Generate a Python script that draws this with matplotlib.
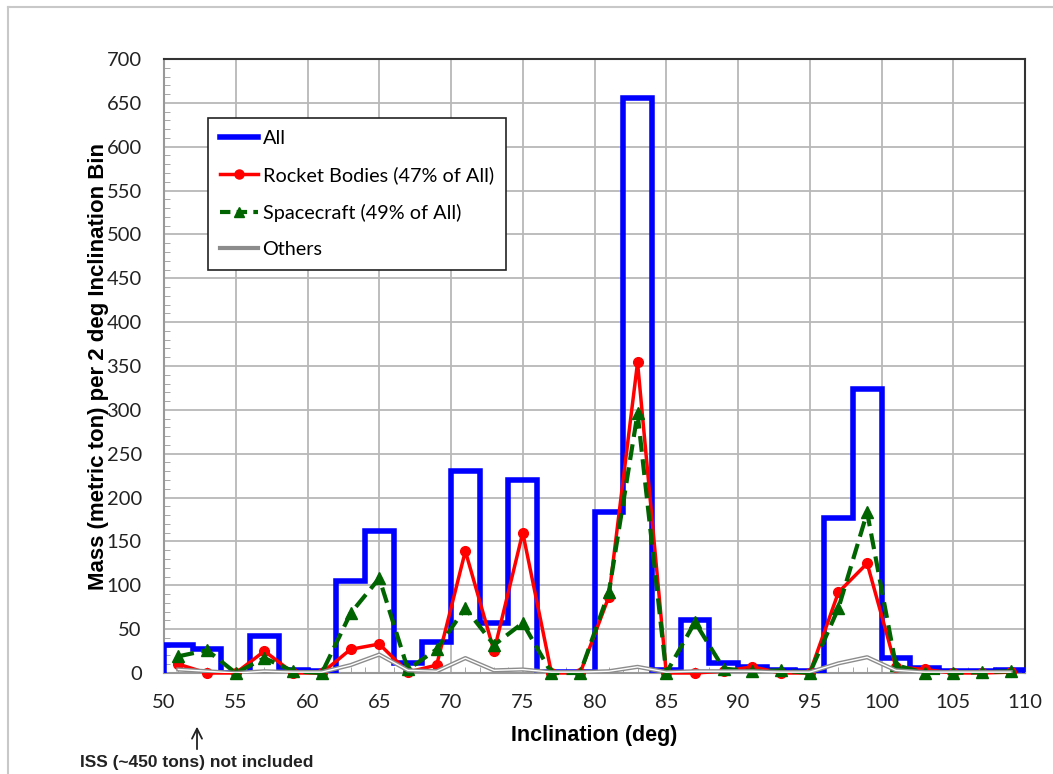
import numpy as np
import matplotlib
matplotlib.use("Agg")
import matplotlib.pyplot as plt
from matplotlib.lines import Line2D

# 2-deg inclination bins, 50..110
bin_edges = np.arange(50, 112, 2)
bin_centers = bin_edges[:-1] + 1

all_mass = [32, 27, 0, 42, 3, 2, 105, 162, 11, 35, 230, 57, 220, 1, 1,
            183, 656, 3, 60, 11, 7, 3, 2, 177, 324, 17, 6, 2, 2, 3]
rocket_bodies = [10, 0, 0, 25, 0, 0, 27, 33, 1, 9, 139, 25, 160, 0, 0,
                 87, 354, 0, 0, 2, 7, 0, 0, 92, 125, 7, 4, 0, 0, 1]
spacecraft = [19, 26, 0, 17, 2, 0, 68, 108, 4, 27, 74, 32, 57, 0, 0,
              92, 296, 0, 58, 5, 2, 3, 0, 74, 183, 9, 0, 0, 1, 2]
others = [4, 2, 0, 2, 1, 1, 9, 21, 3, 2, 17, 3, 4, 1, 1,
          2, 7, 1, 2, 2, 2, 1, 1, 11, 18, 3, 1, 1, 1, 1]

xticks = np.arange(50, 115, 5)
yticks = np.arange(0, 750, 50)

tick_font = "Lato"
label_font = "Liberation Sans"

fig = plt.figure(figsize=(10.53, 7.74), dpi=100)
ax = fig.add_axes([164 / 1053, 1 - 673 / 774, 861 / 1053, 614 / 774])

# grid
ax.set_axisbelow(True)
ax.grid(True, which="major", color="#b8b8b8", lw=1.3)

# series
ax.stairs(all_mass, bin_edges, baseline=0, color="#0000ff", lw=4, zorder=3)
ax.plot(bin_centers, rocket_bodies, color="#ff0000", lw=2.5, marker="o",
        ms=7, zorder=4, clip_on=False)
ax.plot(bin_centers, spacecraft, color="#006400", lw=3, ls=(0, (3.8, 1.8)),
        marker="^", ms=8.5, zorder=5, clip_on=False)
ax.plot(bin_centers, others, color="#8c8c8c", lw=3, zorder=6)
ax.plot(bin_centers, others, color="white", lw=1, zorder=6.5)

ax.set_xlim(50, 110)
ax.set_ylim(0, 700)
ax.set_xticks(xticks)
ax.set_yticks(yticks)
ax.set_xticks(np.arange(50, 111, 1), minor=True)
ax.set_yticks(np.arange(0, 701, 10), minor=True)
ax.tick_params(which="major", length=0)
ax.tick_params(axis="x", which="major", pad=15)
ax.tick_params(axis="y", which="major", pad=16)
ax.tick_params(which="minor", direction="in", length=4, color="#999999")
ax.tick_params(axis="x", which="minor", top=False)
ax.tick_params(axis="y", which="minor", right=False)
for lab in ax.get_xticklabels() + ax.get_yticklabels():
    lab.set_fontfamily(tick_font)
    lab.set_fontsize(14.5)
    lab.set_color("#222222")

for side in ["left", "bottom"]:
    ax.spines[side].set_color("#999999")
    ax.spines[side].set_linewidth(1.5)
for side in ["top", "right"]:
    ax.spines[side].set_color("#333333")
    ax.spines[side].set_linewidth(1.5)

ax.set_xlabel("Inclination (deg)", fontfamily=label_font, fontsize=15.5,
              fontweight="bold", labelpad=10)
ax.set_ylabel("Mass (metric ton) per 2 deg Inclination Bin",
              fontfamily=label_font, fontsize=16, fontweight="bold",
              labelpad=-2)

handles = [
    Line2D([], [], color="#0000ff", lw=4),
    Line2D([], [], color="#ff0000", lw=2.5, marker="o", ms=6.5),
    Line2D([], [], color="#006400", lw=3, ls=(0, (2.5, 1.5)), marker="^", ms=7),
    Line2D([], [], color="#8c8c8c", lw=3),
]
labels = ["All", "Rocket Bodies (47% of All)", "Spacecraft (49% of All)", "Others"]
leg = ax.legend(handles, labels, loc="upper left",
                bbox_to_anchor=(0.051, 0.904), borderaxespad=0,
                prop={"family": tick_font, "size": 14.3}, frameon=True,
                fancybox=False, framealpha=1, edgecolor="#222222",
                handlelength=1.9, handletextpad=0.25, labelspacing=0.98,
                borderpad=0.6)
leg.get_frame().set_linewidth(1.2)
leg.set_zorder(10)

# ISS note
ax.annotate("", xy=(52.3, -58), xytext=(52.3, -90),
            arrowprops=dict(arrowstyle="->", color="#222222", lw=1.3,
                            mutation_scale=18),
            annotation_clip=False)
fig.text(80 / 1053, 1 - 762 / 774, "ISS (~450 tons) not included",
         fontfamily=label_font, fontsize=12.5, fontweight="bold",
         color="#222222", va="center", ha="left")

# outer border
fig.add_artist(Line2D([8 / 1053, 8 / 1053], [1 - 7 / 774, 0], color="#c8c8c8",
                      lw=1.5, transform=fig.transFigure))
fig.add_artist(Line2D([8 / 1053, 1], [1 - 7 / 774, 1 - 7 / 774], color="#c8c8c8",
                      lw=1.5, transform=fig.transFigure))

fig.savefig("out.png", dpi=100)
